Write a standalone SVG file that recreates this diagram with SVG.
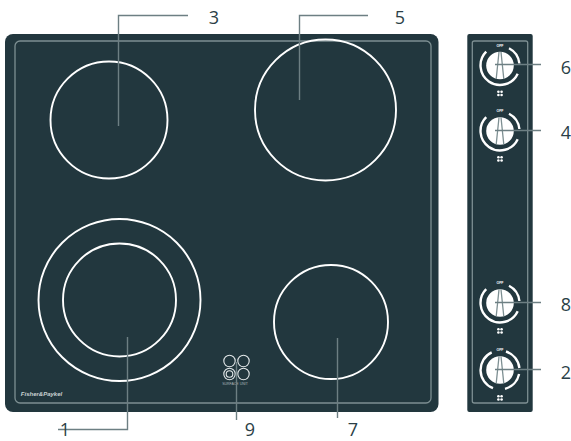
<svg xmlns="http://www.w3.org/2000/svg" width="571" height="441" viewBox="0 0 571 441">
<style>
.panel{fill:#22373e}
.inner{fill:none;stroke:#7d8f92;stroke-width:1.3}
.ring{fill:none;stroke:#fff;stroke-width:1.9}
.small{fill:none;stroke:#e4e9ea;stroke-width:1.1}
.lead{fill:none;stroke:#6d7f83;stroke-width:1.4}
.num{font-family:"Open Sans","Noto Sans",sans-serif;font-size:18px;fill:#2b3f47;text-anchor:middle}
.arc{fill:none;stroke:#fff;stroke-width:2.4}
.knob{fill:#fff}
.tick{fill:none;stroke:#7d8f92;stroke-width:1.3}
.off{font-family:"Liberation Sans",sans-serif;font-size:3.500px;font-weight:bold;fill:#fff;text-anchor:middle}
.dots{fill:#fff}
</style>
<defs>
<g id="dial">
<circle class="knob" r="13.800"/>
<path class="tick" d="M-1-13.500L-3.800 13.500M1-13.500L3.800 13.500"/>
<text class="off" y="-19">OFF</text>
<g class="dots"><circle cx="-1.600" cy="26.300" r="1.300"/><circle cx="1.600" cy="26.300" r="1.300"/><circle cx="-1.600" cy="29.500" r="1.300"/><circle cx="1.600" cy="29.500" r="1.300"/></g>
</g>
</defs>
<g id="cooktop">
<rect class="panel" x="5" y="34" width="433.500" height="378" rx="8"/>
<rect class="inner" x="15" y="41" width="416" height="362" rx="5"/>
<text x="41.500" y="396" font-family="Liberation Sans,sans-serif" font-size="6" font-style="italic" font-weight="bold" fill="#c9d2d3" text-anchor="middle">Fisher&amp;Paykel</text>
</g>
<g id="element-3"><circle class="ring" cx="109" cy="120" r="58.500"/></g>
<g id="element-5"><circle class="ring" cx="325.500" cy="110" r="70.500"/></g>
<g id="element-1"><circle class="ring" cx="119.500" cy="300" r="81"/><circle class="ring" cx="119.500" cy="300" r="56.500"/></g>
<g id="element-7"><circle class="ring" cx="331" cy="322" r="57"/></g>
<g id="surface-unit">
<circle class="small" cx="229.500" cy="361" r="5.700"/>
<circle class="small" cx="243.500" cy="361" r="5.700"/>
<circle class="small" cx="229.500" cy="374" r="5.700"/>
<circle class="small" cx="229.500" cy="374" r="3.300"/>
<circle class="small" cx="243.500" cy="374" r="5.700"/>
<text x="235" y="385" font-family="Liberation Sans,sans-serif" font-size="3.500" fill="#a9b5b8" text-anchor="middle">SURFACE UNIT</text>
</g>
<g id="control-panel">
<rect class="panel" x="467.300" y="34" width="65.400" height="378" rx="2"/>
<rect class="inner" x="472.300" y="41" width="55.400" height="362" rx="2"/>
</g>
<g id="knob-6" transform="translate(500 65.500)"><use href="#dial"/><path class="arc" d="M-13.800-13.800A19.500 19.500 0 1 0 17.700 8.200M9-17.300A19.500 19.500 0 0 1 19.400-2"/></g>
<g id="knob-4" transform="translate(500 131)"><use href="#dial"/><path class="arc" d="M-13.800-13.800A19.500 19.500 0 1 0 17.700 8.200M9-17.300A19.500 19.500 0 0 1 19.400-2"/></g>
<g id="knob-8" transform="translate(500 303)"><use href="#dial"/><path class="arc" d="M-13.800-13.800A19.500 19.500 0 1 0 17.700 8.200M9-17.300A19.500 19.500 0 0 1 19.400-2"/></g>
<g id="knob-2" transform="translate(500 370)"><use href="#dial"/><path class="arc" d="M-8.300-17.600A19.500 19.500 0 0 0 -7 18.200M5 18.800A19.500 19.500 0 0 0 19.100 4M6-18.500A19.500 19.500 0 0 1 19.400-2"/></g>
<g id="connectors">
<path class="lead" d="M118.500 126V15.500H188"/>
<path class="lead" d="M299.500 100V15.500H368"/>
<path class="lead" d="M127.500 337V429.500H58"/>
<path class="lead" d="M236.500 362V420"/>
<path class="lead" d="M337.500 338V418"/>
<path class="lead" d="M495 64.500H541"/>
<path class="lead" d="M495 130.500H541"/>
<path class="lead" d="M495 302.500H541"/>
<path class="lead" d="M495 369.500H541"/>
</g>
<g id="labels">
<text class="num" x="214" y="24">3</text>
<text class="num" x="400" y="24">5</text>
<text class="num" x="65" y="435.500">1</text>
<text class="num" x="250" y="435.500">9</text>
<text class="num" x="353" y="435.500">7</text>
<text class="num" x="566" y="74">6</text>
<text class="num" x="566" y="139">4</text>
<text class="num" x="566" y="311">8</text>
<text class="num" x="566" y="379">2</text>
</g>
</svg>
